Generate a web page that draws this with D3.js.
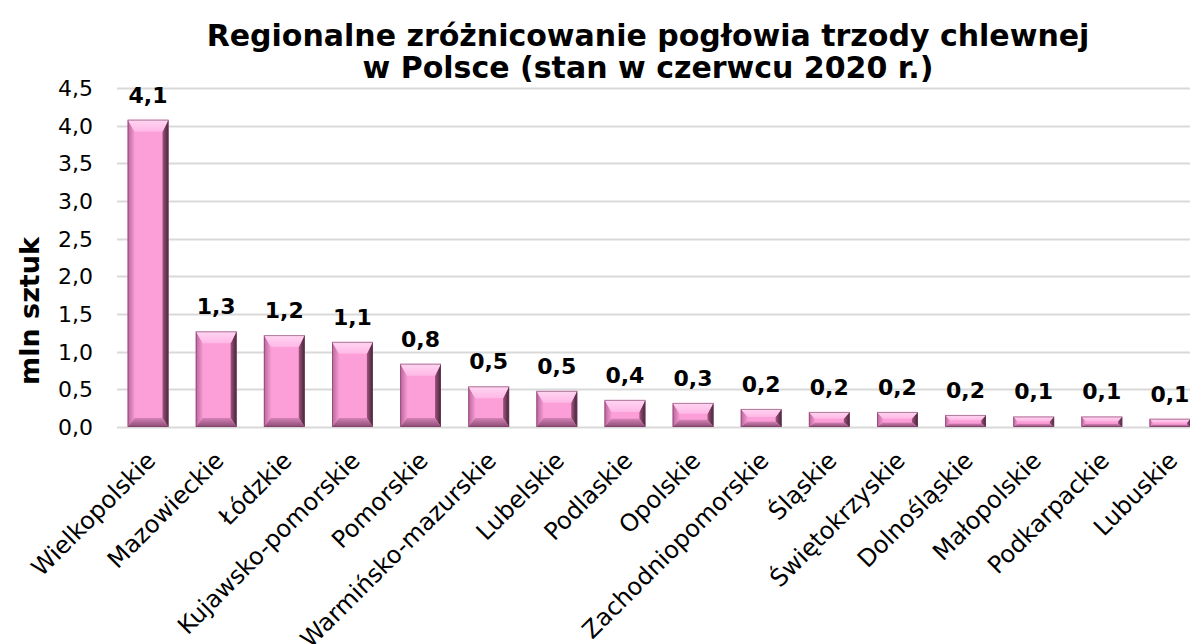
<!DOCTYPE html>
<html>
<head>
<meta charset="utf-8">
<script src="https://cdn.jsdelivr.net/npm/d3@7"></script>
<style>
  body { margin: 0; background: #fff; }
  svg { font-family: "DejaVu Sans", Verdana, sans-serif; }
</style>
</head>
<body>
<div id="chart"></div>
<script>
// regions (voivodeships) and pig stock, mln head, June 2020
const regions = ["Wielkopolskie", "Mazowieckie", "Łódzkie", "Kujawsko-pomorskie", "Pomorskie",
  "Warmińsko-mazurskie", "Lubelskie", "Podlaskie", "Opolskie", "Zachodniopomorskie", "Śląskie",
  "Świętokrzyskie", "Dolnośląskie", "Małopolskie", "Podkarpackie", "Lubuskie"];
const values = [4.08, 1.27, 1.22, 1.13, 0.84, 0.54, 0.48, 0.36, 0.32, 0.24, 0.2, 0.2, 0.16, 0.14, 0.14, 0.11];
const labels = ["4,1", "1,3", "1,2", "1,1", "0,8", "0,5", "0,5", "0,4", "0,3", "0,2", "0,2", "0,2", "0,2", "0,1", "0,1", "0,1"];
const yTicks = [0, 0.5, 1, 1.5, 2, 2.5, 3, 3.5, 4, 4.5];
const titleLines = ["Regionalne zróżnicowanie pogłowia trzody chlewnej", "w Polsce (stan w czerwcu 2020 r.)"];
const yTitle = "mln sztuk";

const width = 1190, height = 644;
const margin = { top: 88, left: 114, bottom: 217 };

const svg = d3.select("#chart").append("svg")
  .attr("width", width)
  .attr("height", height);

// scales - the plot runs a little past the right edge like in the original
const x = d3.scaleBand()
  .domain(regions)
  .range([margin.left, 1204])
  .paddingInner(0.4)
  .paddingOuter(0.2);

const y = d3.scaleLinear()
  .domain([0, 4.5])
  .range([height - margin.bottom, margin.top]);

// gradients for the bevelled bars
const defs = svg.append("defs");
function grad(id, x1, y1, x2, y2, stops) {
  const g = defs.append("linearGradient").attr("id", id)
    .attr("x1", x1).attr("y1", y1).attr("x2", x2).attr("y2", y2);
  stops.forEach(s => g.append("stop").attr("offset", s[0]).attr("stop-color", s[1]));
}
grad("g-top", 0, 0, 0, 1, [[0, "#ffd6f2"], [1, "#ffb8e6"]]);
grad("g-left", 0, 0, 1, 0, [[0, "#b8649a"], [1, "#f49ad2"]]);
grad("g-right", 0, 0, 1, 0, [[0, "#a0557f"], [1, "#3e2232"]]);
grad("g-bottom", 0, 0, 0, 1, [[0, "#d482b6"], [1, "#8a4a72"]]);

// gridlines
svg.append("g")
  .selectAll("line")
  .data(yTicks)
  .join("line")
    .attr("x1", margin.left + 3)
    .attr("x2", width)
    .attr("y1", d => Math.round(y(d)) + 0.5)
    .attr("y2", d => Math.round(y(d)) + 0.5)
    .attr("stroke", "#d9d9d9")
    .attr("stroke-width", 2);

// y axis labels
svg.append("g")
  .selectAll("text")
  .data(yTicks)
  .join("text")
    .attr("x", 93)
    .attr("y", d => y(d))
    .attr("dy", "0.36em")
    .attr("text-anchor", "end")
    .attr("font-size", 22)
    .attr("fill", "#000")
    .text(d => d3.format(".1f")(d).replace(".", ","));

svg.append("text")
  .attr("transform", "translate(39, 311) rotate(-90)")
  .attr("text-anchor", "middle")
  .attr("font-size", 27)
  .attr("font-weight", "bold")
  .text(yTitle);

// bars
const bars = svg.append("g")
  .selectAll("g")
  .data(regions.map((r, i) => ({ region: r, value: values[i], label: labels[i] })))
  .join("g");

bars.each(function(d) {
  const g = d3.select(this);
  const x0 = x(d.region), w = x.bandwidth();
  const y0 = y(d.value), y1 = y(0);
  const h = y1 - y0;
  const bt = Math.min(12, h * 0.45);   // top bevel
  const bb = Math.min(9, h * 0.3);     // bottom bevel
  const bl = Math.min(7, h * 0.4);     // left bevel
  const br = Math.min(6, h * 0.4);     // right bevel
  const x1 = x0 + w;

  g.append("rect")
    .attr("x", x0).attr("y", y0)
    .attr("width", w).attr("height", h)
    .attr("fill", "#fc9fd8");
  g.append("polygon")
    .attr("points", [[x0, y0], [x0 + bl, y0 + bt], [x0 + bl, y1 - bb], [x0, y1]].join(" "))
    .attr("fill", "url(#g-left)");
  g.append("polygon")
    .attr("points", [[x1, y0], [x1 - br, y0 + bt], [x1 - br, y1 - bb], [x1, y1]].join(" "))
    .attr("fill", "url(#g-right)");
  g.append("polygon")
    .attr("points", [[x0, y0], [x1, y0], [x1 - br, y0 + bt], [x0 + bl, y0 + bt]].join(" "))
    .attr("fill", "url(#g-top)");
  g.append("polygon")
    .attr("points", [[x0, y1], [x1, y1], [x1 - br, y1 - bb], [x0 + bl, y1 - bb]].join(" "))
    .attr("fill", "url(#g-bottom)");
  g.append("rect")
    .attr("x", x0 + 0.5).attr("y", y0 + 0.5)
    .attr("width", w - 1).attr("height", h - 1)
    .attr("fill", "none")
    .attr("stroke", "#7a3e62")
    .attr("stroke-opacity", 0.6);

  // value label
  g.append("text")
    .attr("x", x0 + w / 2)
    .attr("y", y0 - 17)
    .attr("text-anchor", "middle")
    .attr("font-size", 22)
    .attr("font-weight", "bold")
    .text(d.label);
});

// category labels rotated
svg.append("g")
  .selectAll("text")
  .data(regions)
  .join("text")
    .attr("transform", d => `translate(${x(d) + x.bandwidth() / 2 + 9}, 462) rotate(-45)`)
    .attr("text-anchor", "end")
    .attr("font-size", 24)
    .text(d => d);

// title
svg.append("g")
  .selectAll("text")
  .data(titleLines)
  .join("text")
    .attr("x", 648)
    .attr("y", (d, i) => 46 + i * 32)
    .attr("text-anchor", "middle")
    .attr("font-size", 30)
    .attr("font-weight", "bold")
    .text(d => d);
</script>
</body>
</html>
